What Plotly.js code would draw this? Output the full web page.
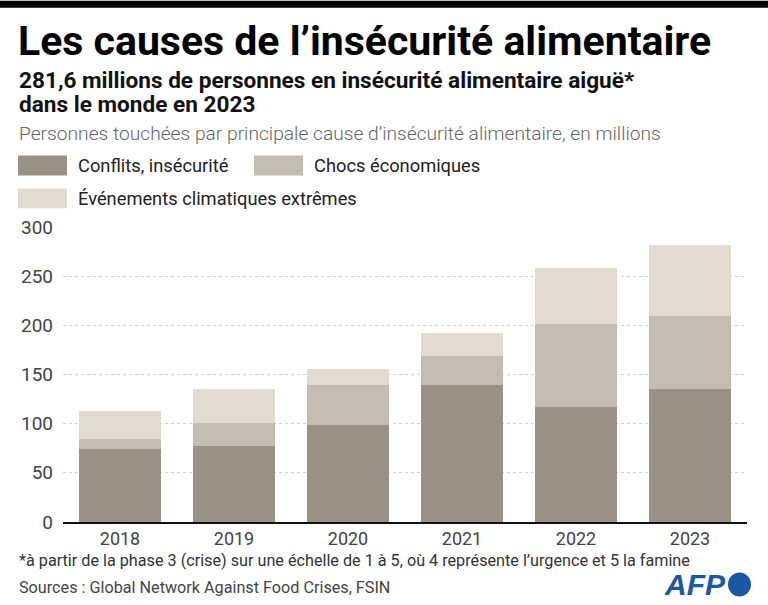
<!DOCTYPE html>
<html>
<head>
<meta charset="utf-8">
<script src="https://cdn.plot.ly/plotly-3.0.1.min.js"></script>
<style>
html,body{margin:0;padding:0;background:#fff;}
#chart{width:768px;height:605px;}
</style>
</head>
<body>
<div id="chart"></div>
<script>
// ---- Data ----
const years = ['2018', '2019', '2020', '2021', '2022', '2023'];
const conflits = [74, 77, 99.1, 139, 117, 135];
const chocsEco = [10.2, 24, 40.5, 30.2, 84, 75];
const climat = [29, 34, 15.7, 23.5, 57, 72];
const seriesNames = ['Conflits, insécurité', 'Chocs économiques', 'Événements climatiques extrêmes'];
const yTicks = [0, 50, 100, 150, 200, 250, 300];

// ---- Style ----
const colors = ['#9a9184', '#c4bcb1', '#e1dbcf'];
const FONT = 'Roboto, "Liberation Sans", sans-serif';

// plot area in pixels
const L = 63, R = 747, T = 226.7, B = 522.3;
const px = x => (x - L) / (R - L);
const py = y => (B - y) / (B - T);

const traces = [conflits, chocsEco, climat].map((vals, i) => ({
  type: 'bar',
  x: years,
  y: vals,
  name: seriesNames[i],
  marker: {color: colors[i], line: {width: 0}},
  hoverinfo: 'skip',
  showlegend: false
}));

const annotations = [];
const shapes = [];

function txt(text, x, y, size, color, opts) {
  annotations.push(Object.assign({
    xref: 'paper', yref: 'paper', x: px(x), y: py(y),
    xanchor: 'left', yanchor: 'middle', showarrow: false,
    text: text, font: {family: FONT, size: size, color: color}
  }, opts || {}));
}

// top black band
shapes.push({type: 'rect', xref: 'paper', yref: 'paper', x0: px(0), x1: px(768), y0: py(0), y1: py(7), fillcolor: '#000', line: {width: 0}, layer: 'above'});

txt('<b>Les causes de l’insécurité alimentaire</b>', 16, 40, 41, '#000');
txt('<b>281,6 millions de personnes en insécurité alimentaire aiguë*</b>', 17, 80, 22.6, '#111');
txt('<b>dans le monde en 2023</b>', 17, 104, 22.6, '#111');
txt('Personnes touchées par principale cause d’insécurité alimentaire, en millions', 17, 133, 19.2, '#666', {font: {family: FONT, size: 19.2, color: '#666', weight: 300}});

// legend
const legPos = [[18, 165], [254, 165], [18, 198]];
seriesNames.forEach((n, i) => {
  const [lx, ly] = legPos[i];
  shapes.push({type: 'rect', xref: 'paper', yref: 'paper', x0: px(lx), x1: px(lx + 49), y0: py(ly - 10), y1: py(ly + 10), fillcolor: colors[i], line: {width: 0}});
  txt(n, lx + 58, ly, 18.3, '#222');
});

// footer
txt('*à partir de la phase 3 (crise) sur une échelle de 1 à 5, où 4 représente l’urgence et 5 la famine', 17, 561, 16.2, '#333');
txt('Sources : Global Network Against Food Crises, FSIN', 17, 588, 16.2, '#444');

// AFP logo
txt('<b><i>AFP</i></b>', 662, 585, 30, '#1c57a6', {font: {family: '"Liberation Sans", Arial, sans-serif', size: 30, color: '#1c57a6'}});
shapes.push({type: 'circle', xref: 'paper', yref: 'paper', x0: px(728), x1: px(751), y0: py(573), y1: py(597), fillcolor: '#1c57a6', line: {width: 0}});

const layout = {
  width: 768, height: 605,
  margin: {l: L, r: 768 - R, t: T, b: 605 - B, pad: 0},
  paper_bgcolor: '#fff', plot_bgcolor: '#fff',
  barmode: 'stack',
  bargap: 0.28,
  font: {family: FONT, color: '#444'},
  xaxis: {
    type: 'category',
    showgrid: false,
    showline: true, linecolor: '#111', linewidth: 1.5,
    ticks: '', tickfont: {family: FONT, size: 18, color: '#444'},
    ticklabelstandoff: 0,
    fixedrange: true
  },
  yaxis: {
    range: [0, 300],
    tickvals: yTicks,
    ticktext: yTicks.map(String),
    showgrid: true, gridcolor: 'rgba(150,150,150,0.45)', griddash: 'dot', gridwidth: 1,
    zeroline: false, showline: false,
    ticks: '', tickfont: {family: FONT, size: 19, color: '#444'},
    ticklabelstandoff: 9,
    layer: 'above traces',
    fixedrange: true
  },
  shapes: shapes,
  annotations: annotations,
  showlegend: false
};

Plotly.newPlot('chart', traces, layout, {staticPlot: true, displayModeBar: false});
</script>
</body>
</html>
